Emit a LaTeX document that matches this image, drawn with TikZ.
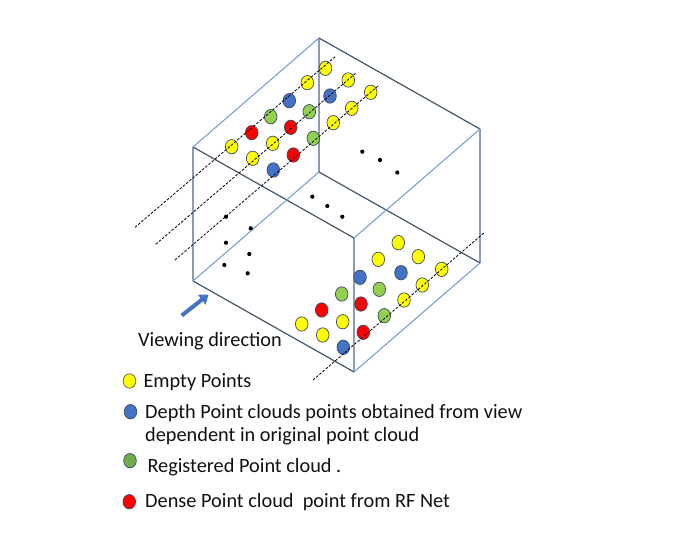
\documentclass[tikz,border=0pt]{standalone}
\usepackage{fontspec}
\setmainfont{Carlito}
\usetikzlibrary{shapes.geometric,arrows.meta}
\definecolor{cyel}{HTML}{FFFF00}
\definecolor{cblu}{HTML}{4472C4}
\definecolor{cgrn}{HTML}{92D050}
\definecolor{cgrnL}{HTML}{70AD47}
\definecolor{cred}{HTML}{FF0000}
\definecolor{cout}{HTML}{3B4A63}
\definecolor{edark}{HTML}{44546A}
\definecolor{elight}{HTML}{7C9DD8}
\definecolor{evert}{HTML}{8D9BB6}
\definecolor{txt}{HTML}{111111}
\tikzset{
  pt/.style={ellipse,draw=cout,line width=0.7pt,minimum width=12.6pt,minimum height=14.4pt,inner sep=0pt},
  Y/.style={pt,fill=cyel}, B/.style={pt,fill=cblu}, G/.style={pt,fill=cgrn}, R/.style={pt,fill=cred},
  sdot/.style={circle,fill=black,minimum size=4.2pt,inner sep=0pt},
  dk/.style={draw=edark,line width=1.2pt},
  lt/.style={draw=elight,line width=1.1pt},
  vt/.style={draw=evert,line width=1.6pt},
  ray/.style={draw=black,line width=0.8pt,dash pattern=on 2.6pt off 1.6pt},
  lbl/.style={anchor=base west,inner sep=0pt,text=txt,font=\fontsize{20.3}{23.5}\selectfont},
}
\begin{document}
\begin{tikzpicture}[x=1pt,y=-1pt]
\useasboundingbox (0,0) rectangle (697,558);
% box vertices
\coordinate (A) at (319,38);
\coordinate (Bv) at (480,129);
\coordinate (C) at (193,147);
\coordinate (F) at (354,238);
\coordinate (D) at (319,172);
\coordinate (E) at (480,263);
\coordinate (H) at (193,281);
\coordinate (Gv) at (354,372);
% edges
\draw[vt] (A) -- (D);
\draw[vt] (Bv) -- (E);
\draw[vt] (C) -- (H);
\draw[vt] (F) -- (Gv);
\draw[dk] (A) -- (Bv);
\draw[dk] (C) -- (F);
\draw[dk] (D) -- (E);
\draw[dk] (H) -- (Gv);
\draw[lt] (A) -- (C);
\draw[lt] (Bv) -- (F);
\draw[lt] (D) -- (H);
\draw[lt] (E) -- (Gv);
% small dots
\node[sdot] (s1) at (362.3,151.7) {};
\node[sdot] (s2) at (380,160) {};
\node[sdot] (s3) at (397.3,172.5) {};
\node[sdot] (s4) at (312.3,196.7) {};
\node[sdot] (s5) at (327.3,206) {};
\node[sdot] (s6) at (342.3,216.7) {};
\node[sdot] (s7) at (226,216.7) {};
\node[sdot] (s8) at (250.7,228.3) {};
\node[sdot] (s9) at (226,242.7) {};
\node[sdot] (s10) at (249.3,254) {};
\node[sdot] (s11) at (224.3,265) {};
\node[sdot] (s12) at (247.7,273.3) {};
% top group
\node[Y] (a1) at (231.7,146.7) {};
\node[R] (a2) at (251.7,132.7) {};
\node[G] (a3) at (270.7,116.7) {};
\node[B] (a4) at (289.3,100.7) {};
\node[Y] (a5) at (307.3,82.7) {};
\node[Y] (a6) at (325.5,68.3) {};
\node[Y] (b1) at (252.7,158.3) {};
\node[Y] (b2) at (272.7,143.3) {};
\node[R] (b3) at (290.7,127.3) {};
\node[G] (b4) at (309.3,111.7) {};
\node[B] (b5) at (330,96) {};
\node[Y] (b6) at (348.3,80) {};
\node[B] (c1) at (273.3,170) {};
\node[R] (c2) at (293.3,155) {};
\node[G] (c3) at (313.3,138.3) {};
\node[Y] (c4) at (333.3,122.7) {};
\node[Y] (c5) at (351.7,108.3) {};
\node[Y] (c6) at (370.7,92.3) {};
% bottom-right group
\node[Y] (d1) at (301.7,324) {};
\node[R] (d2) at (321.7,310) {};
\node[G] (d3) at (341.7,294) {};
\node[B] (d4) at (360,277.3) {};
\node[Y] (d5) at (378.3,259.3) {};
\node[Y] (d6) at (398.3,242.7) {};
\node[Y] (e1) at (322.7,335) {};
\node[Y] (e2) at (342.7,321.7) {};
\node[R] (e3) at (361,304) {};
\node[G] (e4) at (379.3,289.3) {};
\node[B] (e5) at (401,272.7) {};
\node[Y] (e6) at (418.3,256.7) {};
\node[B] (f1) at (343.3,347.3) {};
\node[R] (f2) at (363.3,332.3) {};
\node[G] (f3) at (384.3,315.7) {};
\node[Y] (f4) at (404,300) {};
\node[Y] (f5) at (422.3,285) {};
\node[Y] (f6) at (441.7,269.3) {};
% rays
\coordinate (r1s) at (135,227.3); \coordinate (r1e) at (336,56);
\coordinate (r2s) at (155.7,244.3); \coordinate (r2e) at (356.5,72.5);
\coordinate (r3s) at (175,260); \coordinate (r3e) at (378,86);
\coordinate (r4s) at (313,380); \coordinate (r4e) at (485,232);
\draw[ray] (r1s) -- (r1e);
\draw[ray] (r2s) -- (r2e);
\draw[ray] (r3s) -- (r3e);
\draw[ray] (r4s) -- (r4e);
% viewing arrow
\coordinate (vs) at (181.7,315.5);
\coordinate (ve) at (208.5,294.5);
\draw[cblu,line width=4pt,-{Triangle[width=12pt,length=8.5pt]}] (vs) -- (ve);
\node[lbl] (vd) at (138,346.7) {Viewing direction};
% legend
\node[pt,fill=cyel,draw=gray!70!black] (ly) at (129.5,381) {};
\node[pt,fill=cblu] (lb) at (130.5,411.7) {};
\node[pt,fill=cgrnL] (lg) at (130,460.7) {};
\node[pt,fill=cred] (lr) at (129.3,501.7) {};
\node[lbl] (t1) at (143.3,387.3) {Empty Points};
\node[lbl] (t2) at (145,418.3) {Depth Point clouds points obtained from view};
\node[lbl] (t2b) at (145,441.7) {dependent in original point cloud};
\node[lbl] (t3) at (147.3,472.7) {Registered Point cloud .};
\node[lbl] (t4) at (145,507.3) {Dense Point cloud\ \ point from RF Net};
\end{tikzpicture}
\end{document}
